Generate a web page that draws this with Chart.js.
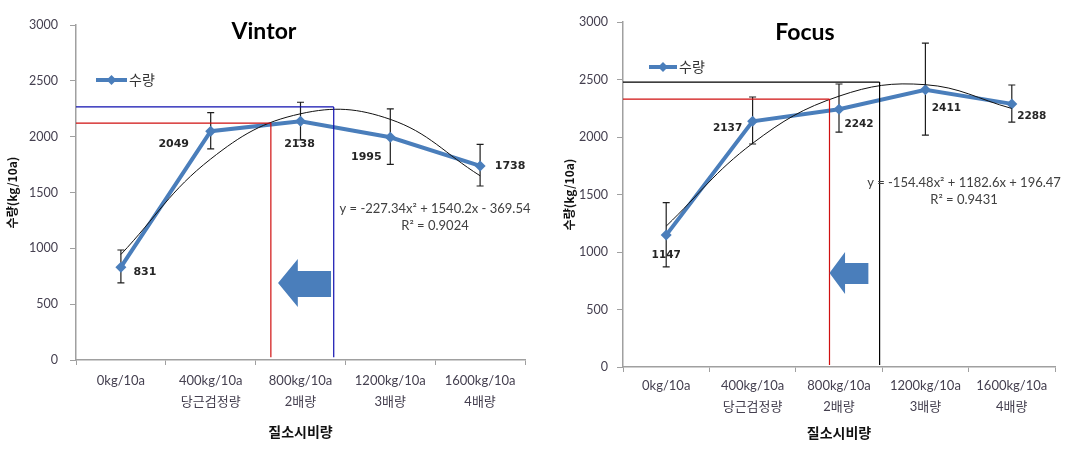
<!DOCTYPE html>
<html><head><meta charset="utf-8">
<script src="https://cdn.jsdelivr.net/npm/chart.js@4.4.1/dist/chart.umd.min.js"></script>
<style>
html,body{margin:0;padding:0;background:#fff;}
#wrap{position:relative;width:1070px;height:454px;overflow:hidden;}
.panel{position:absolute;top:0;height:454px;}
</style></head><body>
<div id="wrap">
<div class="panel" style="left:0;width:540px"><canvas id="c1"></canvas></div>
<div class="panel" style="left:540px;width:530px"><canvas id="c2"></canvas></div>
</div>
<script>
// ---------- data ----------
const categories = ["0kg/10a", ["400kg/10a","당근검정량"], ["800kg/10a","2배량"], ["1200kg/10a","3배량"], ["1600kg/10a","4배량"]];
const yTicks = [0, 500, 1000, 1500, 2000, 2500, 3000];
const seriesName = "수량";
const xTitle = "질소시비량";
const yTitle = "수량(kg/10a)";

const vintorYield   = [831, 2049, 2138, 1995, 1738];
const vintorErrHigh = [985, 2215, 2308, 2248, 1931];
const vintorErrLow  = [690, 1890, 1970, 1752, 1558];
const vintorTrend   = [945, 1800, 2205, 2155, 1650];
const vintorRefX    = [1.67, 2.37];
const vintorRefY    = [2122, 2266];
const vintorEq      = ["y = -227.34x² + 1540.2x - 369.54", "R² = 0.9024"];

const focusYield   = [1147, 2137, 2242, 2411, 2288];
const focusErrHigh = [1430, 2348, 2461, 2817, 2452];
const focusErrLow  = [870, 1939, 2043, 2017, 2130];
const focusTrend   = [1225, 1945, 2355, 2455, 2248];
const focusRefX    = [1.89, 2.47];
const focusRefY    = [2330, 2478];
const focusEq      = ["y = -154.48x² + 1182.6x + 196.47", "R² = 0.9431"];

// ---------- drawing ----------
Chart.defaults.font.family = "Lato, 'Noto Sans CJK KR', sans-serif";
const BLUE = '#4a7ebb';

const deco = {
  id: 'deco',
  beforeDatasetsDraw(chart, args, o) {
    const ctx = chart.ctx, xs = chart.scales.x, ys = chart.scales.y;
    ctx.save();
    ctx.strokeStyle = '#1e1e1e'; ctx.lineWidth = 1.2;
    o.errHigh.forEach((h, i) => {
      const x = xs.getPixelForValue(i), y1 = ys.getPixelForValue(h), y2 = ys.getPixelForValue(o.errLow[i]);
      ctx.beginPath();
      ctx.moveTo(x, y1); ctx.lineTo(x, y2);
      ctx.moveTo(x - 3.5, y1); ctx.lineTo(x + 3.5, y1);
      ctx.moveTo(x - 3.5, y2); ctx.lineTo(x + 3.5, y2);
      ctx.stroke();
    });
    ctx.restore();
  },
  afterDatasetsDraw(chart, args, o) {
    const ctx = chart.ctx, xs = chart.scales.x, ys = chart.scales.y, ca = chart.chartArea;
    ctx.save();
    // reference lines
    o.refX.forEach((rx, i) => {
      const x = xs.getPixelForValue(rx), y = ys.getPixelForValue(o.refY[i]), yb = ys.getPixelForValue(o.refBottom);
      ctx.strokeStyle = o.refColors[i]; ctx.lineWidth = 1.2;
      ctx.beginPath();
      ctx.moveTo(ca.left, y); ctx.lineTo(x, y);
      ctx.moveTo(x, y); ctx.lineTo(x, yb);
      ctx.stroke();
    });
    // arrow
    const a = o.arrow;
    const P = (xv, yv) => [xs.getPixelForValue(xv), ys.getPixelForValue(yv)];
    const pts = [P(a.tip, a.mid), P(a.head, a.headTop), P(a.head, a.shaftTop), P(a.end, a.shaftTop),
                 P(a.end, a.shaftBot), P(a.head, a.shaftBot), P(a.head, a.headBot)];
    ctx.fillStyle = BLUE;
    ctx.beginPath();
    pts.forEach((p, i) => i ? ctx.lineTo(p[0], p[1]) : ctx.moveTo(p[0], p[1]));
    ctx.closePath(); ctx.fill();
    // data labels
    const meta = chart.getDatasetMeta(1);
    ctx.fillStyle = '#262626';
    ctx.font = 'bold ' + o.labelSize + "px 'DejaVu Sans'";
    ctx.textAlign = 'center'; ctx.textBaseline = 'middle';
    meta.data.forEach((pt, i) => {
      const off = o.labelOffsets[i];
      ctx.fillText(String(o.values[i]), pt.x + off[0], pt.y + off[1]);
    });
    // equation
    ctx.fillStyle = '#404040';
    ctx.font = "13px Lato";
    o.eq.forEach((t, i) => ctx.fillText(t, o.eqPos[0], o.eqPos[1] + i * 17));
    // title
    ctx.fillStyle = '#000';
    ctx.font = "bold 23px Lato";
    ctx.fillText(o.title, o.titlePos[0], o.titlePos[1]);
    // legend
    const L = o.legend;
    ctx.strokeStyle = BLUE; ctx.lineWidth = 4;
    ctx.beginPath(); ctx.moveTo(L[0], L[2]); ctx.lineTo(L[1], L[2]); ctx.stroke();
    const mx = (L[0] + L[1]) / 2;
    ctx.fillStyle = BLUE;
    ctx.beginPath(); ctx.moveTo(mx, L[2] - 5); ctx.lineTo(mx + 5, L[2]); ctx.lineTo(mx, L[2] + 5); ctx.lineTo(mx - 5, L[2]); ctx.closePath(); ctx.fill();
    ctx.fillStyle = '#333';
    ctx.font = "14px 'Noto Sans CJK KR'";
    ctx.textAlign = 'left';
    ctx.fillText(seriesName, L[1] + 2, L[2]);
    ctx.restore();
  }
};

function makeChart(id, p) {
  return new Chart(document.getElementById(id), {
    type: 'line',
    data: {
      labels: categories,
      datasets: [
        { label: 'trend', data: p.trend, borderColor: '#111', borderWidth: 1, pointRadius: 0, tension: 0.4, fill: false, order: 0 },
        { label: seriesName, data: p.values, borderColor: BLUE, backgroundColor: BLUE, borderWidth: 4,
          pointStyle: 'rectRot', pointRadius: 5.5, pointBorderWidth: 0, tension: 0, fill: false, order: 1 }
      ]
    },
    options: {
      responsive: true, maintainAspectRatio: false, animation: false, devicePixelRatio: 1,
      layout: { padding: { top: p.top, right: p.right, left: 0, bottom: 0 } },
      plugins: {
        legend: { display: false }, tooltip: { enabled: false },
        deco: p.deco
      },
      scales: {
        x: {
          offset: true,
          grid: { display: true, offset: true, drawOnChartArea: false, drawTicks: true, tickLength: 5, color: '#a0a0a0' },
          border: { display: true, color: '#a0a0a0', width: 1.5 },
          ticks: { color: '#454050', font: { size: 13, lineHeight: 1.62 }, padding: p.xPad, maxRotation: 0, autoSkip: false },
          title: { display: true, text: xTitle, color: '#111', font: { size: 14, weight: 'bold', family: "'Noto Sans CJK KR'" }, padding: { top: 0, bottom: p.xTitlePad } },
          afterFit(s) { s.height = p.xH; }
        },
        y: {
          min: 0, max: 3000,
          afterBuildTicks(s) { s.ticks = yTicks.map(v => ({ value: v })); },
          grid: { display: true, drawOnChartArea: false, drawTicks: true, tickLength: 6, color: '#a0a0a0' },
          border: { display: true, color: '#a0a0a0', width: 1.5 },
          ticks: { color: '#454050', font: { size: 12.5 }, padding: p.yPad, callback: v => String(v) },
          title: { display: true, text: yTitle, color: '#111', font: { size: 12, weight: 'bold', family: "'Noto Sans CJK KR'" }, padding: { top: p.yTitlePad, bottom: 0 } },
          afterFit(s) { s.width = p.yW; }
        }
      }
    },
    plugins: [deco]
  });
}

makeChart('c1', {
  values: vintorYield, trend: vintorTrend,
  top: 25, right: 15, yW: 76, xH: 94, xPad: 5, yPad: 12, xTitlePad: 13.5, yTitlePad: 4.8,
  deco: {
    values: vintorYield, errHigh: vintorErrHigh, errLow: vintorErrLow,
    refX: vintorRefX, refY: vintorRefY, refColors: ['#d01010', '#1010b0'], refBottom: 25,
    arrow: { tip: 1.75, mid: 690, head: 1.97, end: 2.34, headTop: 904, headBot: 475, shaftTop: 797, shaftBot: 564 },
    labelSize: 11,
    labelOffsets: [[24, 5], [-37, 13], [-1, 23], [-24, 20], [30, 0]],
    eq: vintorEq, eqPos: [435, 209],
    title: 'Vintor', titlePos: [264, 32],
    legend: [96, 127, 80]
  }
});

makeChart('c2', {
  values: focusYield, trend: focusTrend,
  top: 22, right: 15, yW: 83, xH: 87, xPad: 3, yPad: 9, xTitlePad: 12.5, yTitlePad: 22,
  deco: {
    values: focusYield, errHigh: focusErrHigh, errLow: focusErrLow,
    refX: focusRefX, refY: focusRefY, refColors: ['#d01010', '#000000'], refBottom: 17,
    arrow: { tip: 1.89, mid: 817, head: 2.07, end: 2.34, headTop: 1000, headBot: 635, shaftTop: 904, shaftBot: 722 },
    labelSize: 10.5,
    labelOffsets: [[0, 20], [-25, 7], [20, 15], [21, 19], [20, 12]],
    eq: focusEq, eqPos: [424, 183],
    title: 'Focus', titlePos: [265, 33],
    legend: [109, 137, 67]
  }
});
</script>
</body></html>
